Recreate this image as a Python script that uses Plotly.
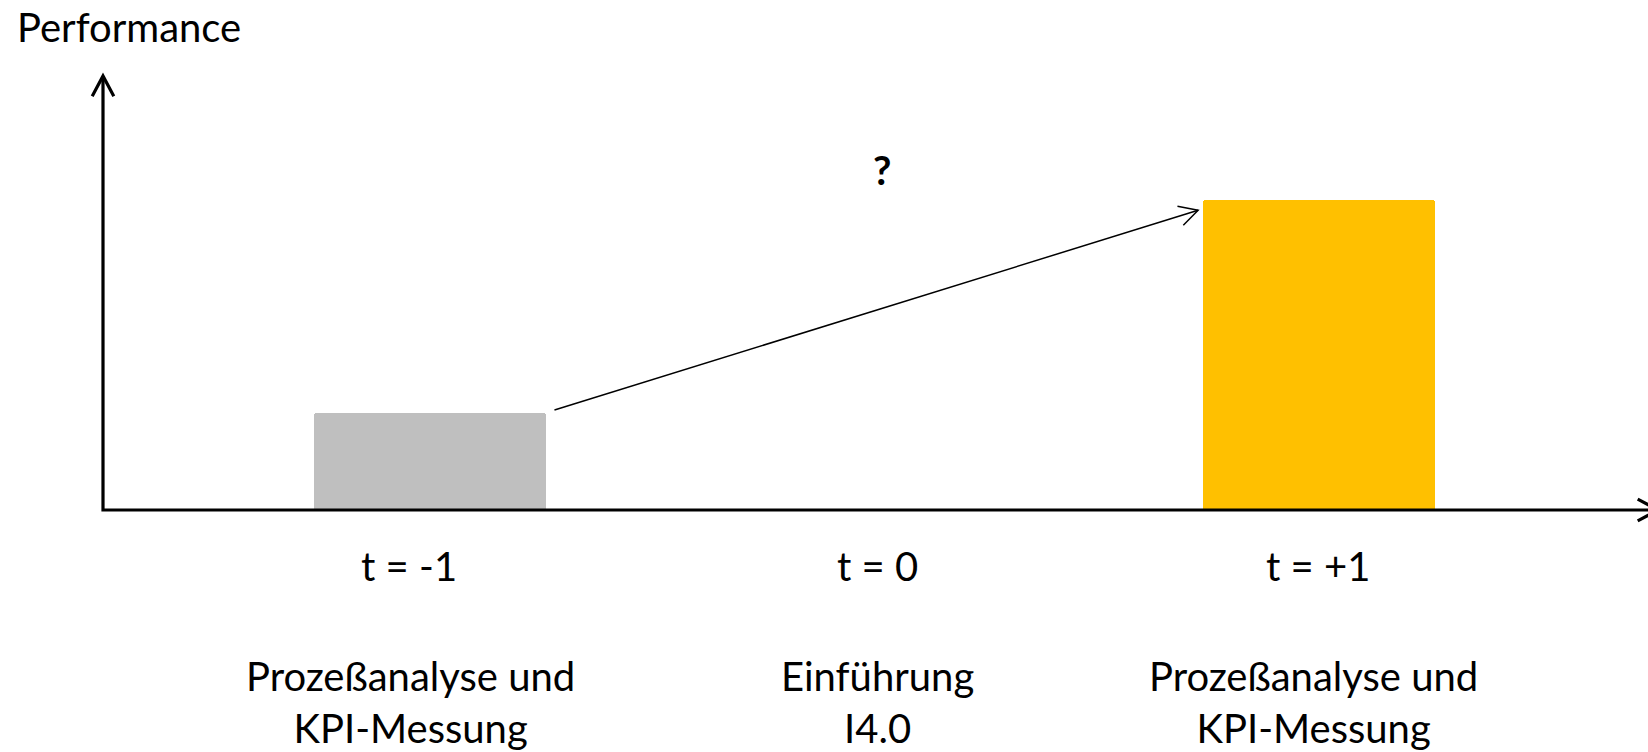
import math
import plotly.graph_objects as go

# Performance before and after the I4.0 introduction
periods = [-1, 1]
performance = [1.0, 3.2]
bar_colors = ["#BFBFBF", "#FFC000"]

tick_positions = [-1, 0, 1]
tick_labels = ["t = -1", "t = 0", "t = +1"]
phase_labels = [
    "Prozeßanalyse und<br>KPI-Messung",
    "Einführung<br>I4.0",
    "Prozeßanalyse und<br>KPI-Messung",
]
axis_title = "Performance"
question_text = "?"

# expected improvement arrow (data coordinates)
arrow_from = (-0.72, 1.03)
arrow_to = (0.728, 3.09)
question_pos = (0.0, 3.5)

W, H = 1648, 752
M = dict(l=103, r=0, t=76, b=242)
x_range = [-1.7357, 1.7402]
y_range = [0, 4.474]
FONT = "Lato, 'Open Sans', sans-serif"
FS = 40

fig = go.Figure()
fig.add_trace(go.Bar(
    x=periods, y=performance, width=0.52,
    marker=dict(color=bar_colors, line=dict(width=0), cornerradius=3),
    hoverinfo="skip", showlegend=False,
))

shapes = []
# axes drawn as one polyline
shapes.append(dict(type="path", xref="paper", yref="paper",
                   path="M0,1 L0,0 L1,0", line=dict(color="black", width=3.2),
                   layer="above"))


def chevron(tip_dx, tip_dy, ang, arm=22.0, half=28.0):
    """Open arrowhead path in pixels (y up), tip at (tip_dx, tip_dy), pointing along ang."""
    pts = []
    for s in (1, -1):
        a = ang + math.pi + s * math.radians(half)
        pts.append((tip_dx + arm * math.cos(a), tip_dy + arm * math.sin(a)))
    return "M{:.2f},{:.2f} L{:.2f},{:.2f} L{:.2f},{:.2f}".format(
        pts[0][0], pts[0][1], tip_dx, tip_dy, pts[1][0], pts[1][1])


# y axis arrowhead
shapes.append(dict(type="path", xref="paper", yref="paper",
                   xsizemode="pixel", ysizemode="pixel", xanchor=0, yanchor=1,
                   path=chevron(0, 0, math.pi / 2, arm=23),
                   line=dict(color="black", width=3.2), layer="above"))
# x axis arrowhead
shapes.append(dict(type="path", xref="paper", yref="paper",
                   xsizemode="pixel", ysizemode="pixel", xanchor=1, yanchor=0,
                   path=chevron(10, 0, 0.0, arm=23),
                   line=dict(color="black", width=3.2), layer="above"))

# improvement arrow
shapes.append(dict(type="line", xref="x", yref="y",
                   x0=arrow_from[0], y0=arrow_from[1], x1=arrow_to[0], y1=arrow_to[1],
                   line=dict(color="black", width=1.5), layer="above"))
plot_w = W - M["l"] - M["r"]
plot_h = H - M["t"] - M["b"]
px_x = plot_w / (x_range[1] - x_range[0])
px_y = plot_h / (y_range[1] - y_range[0])
ang = math.atan2((arrow_to[1] - arrow_from[1]) * px_y, (arrow_to[0] - arrow_from[0]) * px_x)
shapes.append(dict(type="path", xref="x", yref="y",
                   xsizemode="pixel", ysizemode="pixel",
                   xanchor=arrow_to[0], yanchor=arrow_to[1],
                   path=chevron(0, 0, ang, arm=21),
                   line=dict(color="black", width=1.5), layer="above"))

ann = []
ann.append(dict(text=axis_title, xref="paper", yref="paper", x=-0.057, y=1.113,
                xanchor="left", yanchor="middle", showarrow=False,
                font=dict(family=FONT, size=FS, color="black")))
tick_dx = [-21, 3, -1]
phase_dx = [-20, 3, -5]
for t, lab, dx in zip(tick_positions, tick_labels, tick_dx):
    ann.append(dict(text=lab, x=t, y=0, xref="x", yref="y", xshift=dx, yshift=-56,
                    xanchor="center", yanchor="middle", showarrow=False,
                    font=dict(family=FONT, size=FS, color="black")))
for t, lab, dx in zip(tick_positions, phase_labels, phase_dx):
    ann.append(dict(text=lab, x=t, y=0, xref="x", yref="y", xshift=dx, yshift=-192,
                    xanchor="center", yanchor="middle", showarrow=False,
                    font=dict(family=FONT, size=FS, color="black")))
ann.append(dict(text="<b>" + question_text + "</b>", x=question_pos[0], y=question_pos[1],
                xref="x", yref="y", xshift=7, showarrow=False,
                font=dict(family=FONT, size=FS, color="black")))

fig.update_layout(
    width=W, height=H, margin=M,
    paper_bgcolor="white", plot_bgcolor="white",
    xaxis=dict(range=x_range, visible=False, fixedrange=True),
    yaxis=dict(range=y_range, visible=False, fixedrange=True),
    shapes=shapes, annotations=ann, bargap=0, showlegend=False,
)
fig.write_html("out.html", config={"displayModeBar": False})
